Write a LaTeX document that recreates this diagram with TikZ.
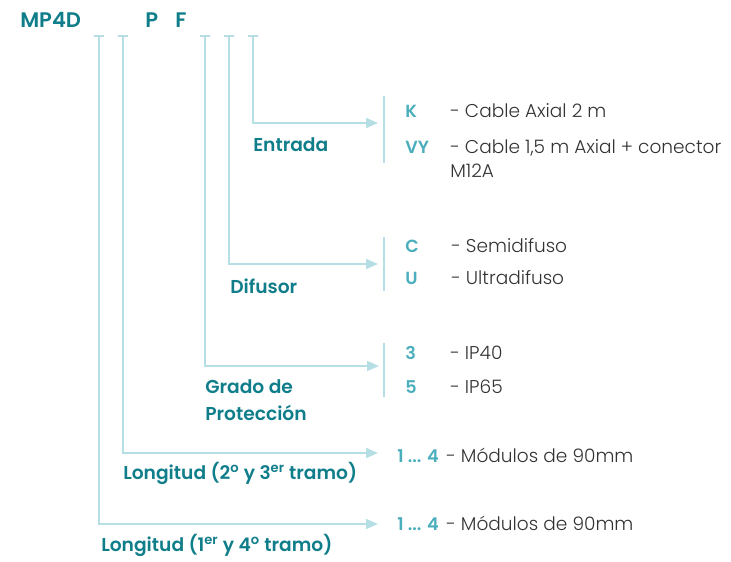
\documentclass[tikz,border=0pt]{standalone}
\usepackage{fontspec}
\setmainfont{Poppins}
\newfontfamily\lightfont{Poppins Light}
\newfontfamily\semifont{Poppins SemiBold}
\usetikzlibrary{arrows.meta}
\definecolor{dteal}{HTML}{0F7E8A}
\definecolor{lteal}{HTML}{4BAEBD}
\definecolor{lline}{HTML}{B5DEE5}
\definecolor{txt}{HTML}{333333}
\tikzset{
  conn/.style={draw=lline, line width=1.3pt, -{Triangle[length=9pt,width=7.5pt]}},
  tick/.style={draw=lline, line width=1.3pt},
  bar/.style={draw=lline, line width=1.3pt},
  lbl/.style={anchor=base west, inner sep=0pt, text=dteal, font=\fontsize{14}{16}\selectfont\semifont},
  code/.style={anchor=base west, inner sep=0pt, text=lteal, font=\fontsize{13.2}{15}\selectfont\semifont},
  desc/.style={anchor=base west, inner sep=0pt, text=txt, font=\fontsize{13.9}{16}\selectfont\lightfont},
  head/.style={anchor=base west, inner sep=0pt, text=dteal, font=\fontsize{15.8}{18}\selectfont\semifont},
}
\newcommand{\sups}[1]{\textsuperscript{#1}}
\begin{document}
\begin{tikzpicture}[x=0.75pt,y=-0.75pt]
\useasboundingbox (0,0) rectangle (731,561);
% header
\node[head] (mp) at (20,27) {MP4D};
\node[head] (p) at (145,27) {P};
\node[head] (f) at (175,27) {F};
% tick tops
\foreach \n/\x in {t1/99,t2/123,t3/205,t4/229,t5/253}{
  \coordinate (\n) at (\x,36);
  \draw[tick] ([xshift=-5*0.75pt]\n) -- ([xshift=5*0.75pt]\n);
}
% corners
\coordinate (c5) at (253,123);
\coordinate (c4) at (229,264);
\coordinate (c3) at (205,366);
\coordinate (c2) at (123,453);
\coordinate (c1) at (99,524);
% arrow tips
\coordinate (a5) at (378,123);
\coordinate (a4) at (378,264);
\coordinate (a3) at (379,366);
\coordinate (a2) at (378,453);
\coordinate (a1) at (378,524);
\draw[conn] (t5) -- (c5) -- (a5);
\draw[conn] (t4) -- (c4) -- (a4);
\draw[conn] (t3) -- (c3) -- (a3);
\draw[conn] (t2) -- (c2) -- (a2);
\draw[conn] (t1) -- (c1) -- (a1);
% bars
\coordinate (b5a) at (384,96); \coordinate (b5b) at (384,163);
\coordinate (b4a) at (384,237); \coordinate (b4b) at (384,291);
\coordinate (b3a) at (384,343); \coordinate (b3b) at (384,397);
\draw[bar] (b5a) -- (b5b);
\draw[bar] (b4a) -- (b4b);
\draw[bar] (b3a) -- (b3b);
% labels
\node[lbl] (l5) at (253,151) {Entrada};
\node[lbl] (l4) at (230,293) {Difusor};
\node[lbl] (l3a) at (205,393) {Grado de};
\node[lbl] (l3b) at (205,420) {Protección};
\node[lbl] (l2) at (123,479) {Longitud (2\sups{o} y 3\sups{er} tramo)};
\node[lbl] (l1) at (101,551) {Longitud (1\sups{er} y 4\sups{o} tramo)};
% entrada options
\node[code] (k) at (405,117) {K};
\node[desc] (kd) at (450,117) {- Cable Axial 2 m};
\node[code] (vy) at (405,153) {VY};
\node[desc] (vyd) at (450,153) {- Cable 1,5 m Axial + conector};
\node[desc] (vyd2) at (450,177) {M12A};
% difusor
\node[code] (c) at (405,252) {C};
\node[desc] (cd) at (451,252) {- Semidifuso};
\node[code] (u) at (405,284) {U};
\node[desc] (ud) at (451,284) {- Ultradifuso};
% grado
\node[code] (g3) at (405,359) {3};
\node[desc] (g3d) at (450,359) {- IP40};
\node[code] (g5) at (405,393) {5};
\node[desc] (g5d) at (450,393) {- IP65};
% longitud
\node[code] (n2) at (397,462) {1 ... 4};
\node[desc] (n2d) at (446,462) {- Módulos de 90mm};
\node[code] (n1) at (397,530) {1 ... 4};
\node[desc] (n1d) at (446,530) {- Módulos de 90mm};
\end{tikzpicture}
\end{document}
